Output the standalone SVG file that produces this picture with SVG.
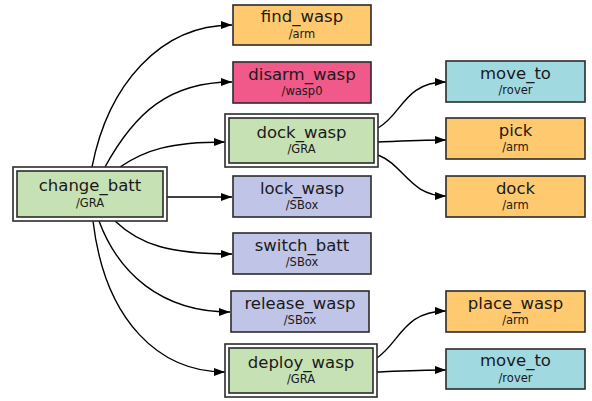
<svg xmlns="http://www.w3.org/2000/svg" width="592" height="401" viewBox="0 0 592 401">
  <defs>
    <marker id="arrow" markerUnits="userSpaceOnUse" markerWidth="12" markerHeight="10" refX="11" refY="4" orient="auto">
      <path d="M0,0 L11,4 L0,8 z" fill="#000"/>
    </marker>
    <style>
      .box { stroke: #2b2b2b; stroke-width: 1.6; }
      .outer { fill: #ffffff; stroke: #2b2b2b; stroke-width: 1.6; }
      .arm { fill: #fec96f; }
      .wasp { fill: #f0598a; }
      .gra { fill: #c6e1b3; }
      .sbox { fill: #c0c4e6; }
      .rover { fill: #a0d9e0; }
      .name { font-family: "DejaVu Sans", sans-serif; font-size: 16.5px; fill: #1a1a1a; text-anchor: middle; }
      .ns { font-family: "DejaVu Sans", sans-serif; font-size: 11.5px; fill: #1a1a1a; text-anchor: middle; }
      .edge { fill: none; stroke: #000; stroke-width: 1.4; marker-end: url(#arrow); }
    </style>
  </defs>
  <rect width="592" height="401" fill="#ffffff"/>

  <g id="connectors">
    <path class="edge" d="M92,167 C108,85 160,25 232,25"/>
    <path class="edge" d="M105,167 C135,112 170,82 232,82"/>
    <path class="edge" d="M120,167 C145,150 170,142 225,142"/>
    <path class="edge" d="M167,197 L232,197"/>
    <path class="edge" d="M115,221 C140,245 170,254 232,254"/>
    <path class="edge" d="M99,221 C118,272 160,312 230,312"/>
    <path class="edge" d="M93,221 C105,322 160,372 225,372"/>
    <path class="edge" d="M378,128 C402,115 404,82 446,82"/>
    <path class="edge" d="M378,142 C400,141 420,140 446,140"/>
    <path class="edge" d="M378,155 C404,165 410,196 446,196"/>
    <path class="edge" d="M377,358 C400,342 404,311 446,311"/>
    <path class="edge" d="M377,372 C400,371 420,370 446,370"/>
  </g>

  <g id="change_batt">
    <rect class="outer" x="13" y="167" width="154" height="54"/>
    <rect class="box gra" x="17" y="171" width="146" height="46"/>
    <text class="name" x="90" y="191">change_batt</text>
    <text class="ns" x="90" y="207">/GRA</text>
  </g>

  <g id="find_wasp">
    <rect class="box arm" x="233" y="5" width="138" height="40"/>
    <text class="name" x="302" y="22">find_wasp</text>
    <text class="ns" x="302" y="37.5">/arm</text>
  </g>

  <g id="disarm_wasp">
    <rect class="box wasp" x="233" y="62" width="138" height="41"/>
    <text class="name" x="302" y="79.5">disarm_wasp</text>
    <text class="ns" x="302" y="95">/wasp0</text>
  </g>

  <g id="dock_wasp">
    <rect class="outer" x="225" y="114" width="153" height="53"/>
    <rect class="box gra" x="229" y="118" width="145" height="45"/>
    <text class="name" x="301.5" y="137.5">dock_wasp</text>
    <text class="ns" x="301.5" y="153">/GRA</text>
  </g>

  <g id="lock_wasp">
    <rect class="box sbox" x="233" y="176" width="138" height="41"/>
    <text class="name" x="302" y="193.5">lock_wasp</text>
    <text class="ns" x="302" y="209">/SBox</text>
  </g>

  <g id="switch_batt">
    <rect class="box sbox" x="233" y="233" width="138" height="41"/>
    <text class="name" x="302" y="250.5">switch_batt</text>
    <text class="ns" x="302" y="266">/SBox</text>
  </g>

  <g id="release_wasp">
    <rect class="box sbox" x="231" y="291" width="138" height="41"/>
    <text class="name" x="300" y="308.5">release_wasp</text>
    <text class="ns" x="300" y="324">/SBox</text>
  </g>

  <g id="deploy_wasp">
    <rect class="outer" x="225" y="344" width="152" height="53"/>
    <rect class="box gra" x="229" y="348" width="144" height="45"/>
    <text class="name" x="301" y="367.5">deploy_wasp</text>
    <text class="ns" x="301" y="383">/GRA</text>
  </g>

  <g id="move_to_1">
    <rect class="box rover" x="446" y="61" width="139" height="41"/>
    <text class="name" x="515.5" y="78.5">move_to</text>
    <text class="ns" x="515.5" y="94">/rover</text>
  </g>

  <g id="pick">
    <rect class="box arm" x="446" y="118" width="139" height="41"/>
    <text class="name" x="515.5" y="135.5">pick</text>
    <text class="ns" x="515.5" y="151">/arm</text>
  </g>

  <g id="dock">
    <rect class="box arm" x="446" y="176" width="139" height="41"/>
    <text class="name" x="515.5" y="193.5">dock</text>
    <text class="ns" x="515.5" y="209">/arm</text>
  </g>

  <g id="place_wasp">
    <rect class="box arm" x="446" y="291" width="139" height="41"/>
    <text class="name" x="515.5" y="308.5">place_wasp</text>
    <text class="ns" x="515.5" y="324">/arm</text>
  </g>

  <g id="move_to_2">
    <rect class="box rover" x="446" y="349" width="139" height="40"/>
    <text class="name" x="515.5" y="366">move_to</text>
    <text class="ns" x="515.5" y="381.5">/rover</text>
  </g>
</svg>
